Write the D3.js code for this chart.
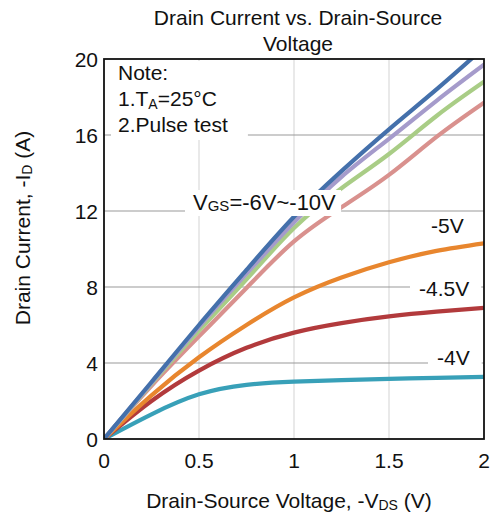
<!DOCTYPE html>
<html>
<head>
<meta charset="utf-8">
<script src="https://cdn.jsdelivr.net/npm/d3@7"></script>
<style>
  body { margin: 0; background: #fff; }
  text { font-family: "Liberation Sans", Arial, sans-serif; fill: #111; }
</style>
</head>
<body>
<script>
// values (-VDS in V, -ID in A)
const vds = [0, 0.25, 0.5, 0.75, 1, 1.25, 1.5, 1.75, 2];
const id10V = [0, 3.0, 6.0, 8.9, 11.7, 14.1, 16.3, 18.4, 20.6];
const id8V = [0, 2.95, 5.9, 8.7, 11.4, 13.8, 15.8, 17.8, 19.7];
const id7V = [0, 2.9, 5.7, 8.4, 11.1, 13.2, 15.0, 17.0, 18.8];
const id6V = [0, 2.8, 5.4, 7.95, 10.4, 12.2, 13.9, 15.9, 17.7];
const id5V = [0, 2.3, 4.3, 6.0, 7.45, 8.5, 9.3, 9.9, 10.3];
const id45V = [0, 2.0, 3.6, 4.8, 5.6, 6.1, 6.45, 6.7, 6.9];
const id4V = [0, 1.3, 2.35, 2.85, 3.02, 3.1, 3.16, 3.22, 3.27];

const xTicks = [0, 0.5, 1, 1.5, 2];
const yTicks = [0, 4, 8, 12, 16, 20];

// drawn bottom to top
const series = [
  { name: "-4V", values: id4V, color: "#38a0b8" },
  { name: "-4.5V", values: id45V, color: "#b23a3c" },
  { name: "-5V", values: id5V, color: "#e8862e" },
  { name: "-6V", values: id6V, color: "#d9918e" },
  { name: "-7V", values: id7V, color: "#a9cd86" },
  { name: "-8V", values: id8V, color: "#a59bcb" },
  { name: "-10V", values: id10V, color: "#4470ab" },
];

const width = 492, height = 523;
const margin = { top: 59, right: 8, bottom: 84, left: 104 };
const pw = width - margin.left - margin.right;
const ph = height - margin.top - margin.bottom;

const svg = d3.select("body").append("svg")
  .attr("width", width)
  .attr("height", height);

const x = d3.scaleLinear().domain([0, 2]).range([margin.left, margin.left + pw]);
const y = d3.scaleLinear().domain([0, 20]).range([margin.top + ph, margin.top]);

svg.append("defs").append("clipPath").attr("id", "plot")
  .append("rect")
  .attr("x", margin.left).attr("y", margin.top)
  .attr("width", pw).attr("height", ph);

// grid
svg.append("g").selectAll("line")
  .data(xTicks.slice(1, -1))
  .join("line")
  .attr("x1", d => x(d)).attr("x2", d => x(d))
  .attr("y1", margin.top).attr("y2", margin.top + ph)
  .attr("stroke", "#dadada").attr("stroke-width", 1.2);

svg.append("g").selectAll("line")
  .data(yTicks.slice(1, -1))
  .join("line")
  .attr("x1", margin.left).attr("x2", margin.left + pw)
  .attr("y1", d => y(d)).attr("y2", d => y(d))
  .attr("stroke", "#999").attr("stroke-width", 1.2);

// curves
const line = d3.line()
  .x(d => x(d[0]))
  .y(d => y(d[1]))
  .curve(d3.curveNatural);

svg.append("g").attr("clip-path", "url(#plot)")
  .selectAll("path")
  .data(series)
  .join("path")
  .attr("d", s => line(vds.map((v, i) => [v, s.values[i]])))
  .attr("fill", "none")
  .attr("stroke", s => s.color)
  .attr("stroke-width", 4.2)
  .attr("stroke-linecap", "round");

// frame
svg.append("rect")
  .attr("x", margin.left).attr("y", margin.top)
  .attr("width", pw).attr("height", ph)
  .attr("fill", "none").attr("stroke", "#111").attr("stroke-width", 1.8);

// tick labels
svg.append("g").selectAll("text")
  .data(xTicks)
  .join("text")
  .attr("x", d => x(d)).attr("y", margin.top + ph + 29)
  .attr("text-anchor", "middle")
  .attr("font-size", 21)
  .text(d => d);

svg.append("g").selectAll("text")
  .data(yTicks)
  .join("text")
  .attr("x", margin.left - 6).attr("y", d => y(d) + 8)
  .attr("text-anchor", "end")
  .attr("font-size", 21)
  .text(d => d);

// title
const title = svg.append("text")
  .attr("text-anchor", "middle")
  .attr("font-size", 21);
title.append("tspan").attr("x", 298).attr("y", 25).text("Drain Current vs. Drain-Source");
title.append("tspan").attr("x", 298).attr("y", 51).text("Voltage");

// axis titles
const xl = svg.append("text")
  .attr("x", 289).attr("y", 508)
  .attr("text-anchor", "middle")
  .attr("font-size", 21);
xl.append("tspan").text("Drain-Source Voltage, -V");
xl.append("tspan").attr("font-size", 14).attr("dy", 2).text("DS");
xl.append("tspan").attr("dy", -2).text(" (V)");

const yl = svg.append("text")
  .attr("transform", "translate(30,228) rotate(-90)")
  .attr("text-anchor", "middle")
  .attr("font-size", 21);
yl.append("tspan").text("Drain Current, -I");
yl.append("tspan").attr("font-size", 14).attr("dy", 2).text("D");
yl.append("tspan").attr("dy", -2).text(" (A)");

// annotations with white backing
function boxed(g, pad) {
  const b = g.node().getBBox();
  g.insert("rect", ":first-child")
    .attr("x", b.x - pad[3]).attr("y", b.y - pad[0])
    .attr("width", b.width + pad[1] + pad[3])
    .attr("height", b.height + pad[0] + pad[2])
    .attr("fill", "#fff");
}

const note = svg.append("g");
note.append("text").attr("x", 118).attr("y", 80).attr("font-size", 21).text("Note:");
const ta = note.append("text").attr("x", 118).attr("y", 106).attr("font-size", 21);
ta.append("tspan").text("1.T");
ta.append("tspan").attr("font-size", 14).attr("dy", 3).text("A");
ta.append("tspan").attr("dy", -3).text("=25°C");
note.append("text").attr("x", 118).attr("y", 132).attr("font-size", 21).text("2.Pulse test");
boxed(note, [0, 20, 4, 7]);

const vgs = svg.append("g");
const vt = vgs.append("text").attr("x", 193).attr("y", 210).attr("font-size", 22);
vt.append("tspan").text("V");
vt.append("tspan").attr("font-size", 15).attr("dy", 1).text("GS");
vt.append("tspan").attr("dy", -1).text("=-6V~-10V");
boxed(vgs, [0, 5, 1, 8]);

const tags = [
  { text: "-5V", x: 431, y: 233 },
  { text: "-4.5V", x: 419, y: 296 },
  { text: "-4V", x: 437, y: 365 },
];
tags.forEach(t => {
  const g = svg.append("g");
  g.append("text").attr("x", t.x).attr("y", t.y).attr("font-size", 21).text(t.text);
  boxed(g, [0, 12, 0, 9]);
});
</script>
</body>
</html>
